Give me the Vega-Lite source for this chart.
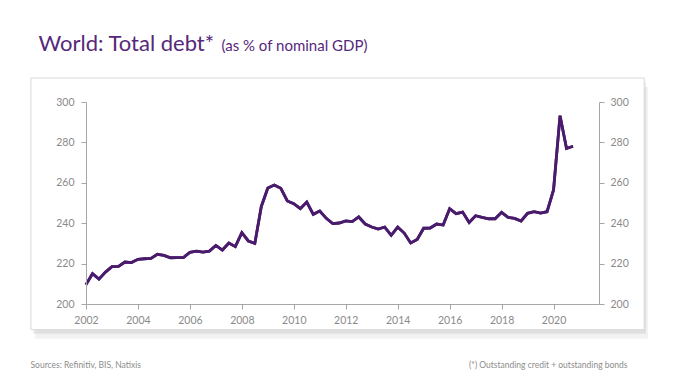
{
  "$schema": "https://vega.github.io/schema/vega-lite/v6.json",
  "width": 513,
  "height": 202,
  "autosize": {"type": "none"},
  "padding": {"left": 86, "top": 102, "right": 81, "bottom": 79},
  "background": "#ffffff",
  "config": {
    "view": {"stroke": null},
    "font": "Lato",
    "axis": {"grid": false, "labelFont": "Lato", "titleFont": "Lato", "zindex": 1, "labelFlush": false}
  },
  "data": {
    "values": [
      {"t": 2002.00, "v": 209.6}, {"t": 2002.25, "v": 215.0}, {"t": 2002.50, "v": 212.3}, {"t": 2002.75, "v": 215.8},
      {"t": 2003.00, "v": 218.5}, {"t": 2003.25, "v": 218.6}, {"t": 2003.50, "v": 220.8}, {"t": 2003.75, "v": 220.5},
      {"t": 2004.00, "v": 222.1}, {"t": 2004.25, "v": 222.4}, {"t": 2004.50, "v": 222.6}, {"t": 2004.75, "v": 224.6},
      {"t": 2005.00, "v": 224.1}, {"t": 2005.25, "v": 222.9}, {"t": 2005.50, "v": 223.0}, {"t": 2005.75, "v": 223.0},
      {"t": 2006.00, "v": 225.6}, {"t": 2006.25, "v": 226.2}, {"t": 2006.50, "v": 225.7}, {"t": 2006.75, "v": 226.2},
      {"t": 2007.00, "v": 229.0}, {"t": 2007.25, "v": 226.7}, {"t": 2007.50, "v": 230.2}, {"t": 2007.75, "v": 228.4},
      {"t": 2008.00, "v": 235.3}, {"t": 2008.25, "v": 231.2}, {"t": 2008.50, "v": 230.0}, {"t": 2008.75, "v": 248.3},
      {"t": 2009.00, "v": 257.4}, {"t": 2009.25, "v": 258.9}, {"t": 2009.50, "v": 257.3}, {"t": 2009.75, "v": 251.0},
      {"t": 2010.00, "v": 249.7}, {"t": 2010.25, "v": 247.2}, {"t": 2010.50, "v": 250.5}, {"t": 2010.75, "v": 244.4},
      {"t": 2011.00, "v": 246.0}, {"t": 2011.25, "v": 242.4}, {"t": 2011.50, "v": 239.8}, {"t": 2011.75, "v": 240.1},
      {"t": 2012.00, "v": 241.1}, {"t": 2012.25, "v": 240.8}, {"t": 2012.50, "v": 243.1}, {"t": 2012.75, "v": 239.6},
      {"t": 2013.00, "v": 238.1}, {"t": 2013.25, "v": 237.1}, {"t": 2013.50, "v": 238.1}, {"t": 2013.75, "v": 234.0},
      {"t": 2014.00, "v": 238.1}, {"t": 2014.25, "v": 235.1}, {"t": 2014.50, "v": 230.2}, {"t": 2014.75, "v": 232.0},
      {"t": 2015.00, "v": 237.5}, {"t": 2015.25, "v": 237.6}, {"t": 2015.50, "v": 239.6}, {"t": 2015.75, "v": 239.1},
      {"t": 2016.00, "v": 247.2}, {"t": 2016.25, "v": 244.7}, {"t": 2016.50, "v": 245.5}, {"t": 2016.75, "v": 240.4},
      {"t": 2017.00, "v": 243.7}, {"t": 2017.25, "v": 242.9}, {"t": 2017.50, "v": 242.2}, {"t": 2017.75, "v": 242.2},
      {"t": 2018.00, "v": 245.4}, {"t": 2018.25, "v": 242.9}, {"t": 2018.50, "v": 242.4}, {"t": 2018.75, "v": 241.1},
      {"t": 2019.00, "v": 244.9}, {"t": 2019.25, "v": 245.7}, {"t": 2019.50, "v": 245.0}, {"t": 2019.75, "v": 245.7},
      {"t": 2020.00, "v": 256.5}, {"t": 2020.25, "v": 293.2}, {"t": 2020.50, "v": 277.0}, {"t": 2020.75, "v": 278.1}
    ]
  },
  "layer": [
    {
      "data": {"values": [{}]},
      "mark": {"type": "rect", "fill": "#000000", "fillOpacity": 0.05},
      "encoding": {
        "x": {"datum": 2000.04, "type": "quantitative", "scale": {"domain": [2002, 2021.75], "nice": false, "zero": false}, "axis": null},
        "x2": {"datum": 2023.64},
        "y": {"datum": 307.4, "type": "quantitative", "scale": {"domain": [200, 300], "nice": false, "zero": false}, "axis": null},
        "y2": {"datum": 182.8}
      }
    },
    {
      "data": {"values": [{}]},
      "mark": {"type": "rect", "fill": "#000000", "fillOpacity": 0.07},
      "encoding": {
        "x": {"datum": 1999.96, "type": "quantitative", "axis": null},
        "x2": {"datum": 2023.56},
        "y": {"datum": 309.9, "type": "quantitative", "axis": null},
        "y2": {"datum": 185.3}
      }
    },
    {
      "data": {"values": [{}]},
      "mark": {"type": "rect", "fill": "#ffffff", "stroke": "#d9d9d9", "strokeWidth": 1},
      "encoding": {
        "x": {"datum": 1999.88, "type": "quantitative", "axis": null},
        "x2": {"datum": 2023.49},
        "y": {"datum": 311.9, "type": "quantitative", "axis": null},
        "y2": {"datum": 187.3}
      }
    },
    {
      "mark": {"type": "line", "color": "#4A1B6C", "strokeWidth": 2.8, "strokeJoin": "miter"},
      "encoding": {
        "x": {
          "field": "t", "type": "quantitative",
          "axis": {
            "orient": "bottom", "zindex": 1, "labelFlush": false,
            "values": [2002, 2004, 2006, 2008, 2010, 2012, 2014, 2016, 2018, 2020],
            "format": "d",
            "domainColor": "#a6a6a6", "tickColor": "#a6a6a6", "tickSize": 5,
            "labelColor": "#8a8a8a", "labelFontSize": 10.5, "labelPadding": 6,
            "title": "Sources: Refinitiv, BIS, Natixis",
            "titleFontSize": 8.5, "titleFontWeight": "normal", "titleColor": "#8c8c8c",
            "titleAnchor": "start", "titleAlign": "left", "titleBaseline": "alphabetic",
            "titleX": -56, "titleY": 63
          }
        },
        "y": {
          "field": "v", "type": "quantitative",
          "axis": {
            "orient": "left", "zindex": 1, "labelFlush": false,
            "values": [200, 220, 240, 260, 280, 300],
            "domainColor": "#a6a6a6", "tickColor": "#a6a6a6", "tickSize": 5,
            "labelColor": "#8a8a8a", "labelFontSize": 10.5, "labelPadding": 7,
            "title": "World: Total debt*",
            "titleFontSize": 22, "titleFontWeight": "normal", "titleColor": "#55287A",
            "titleAngle": 0, "titleAlign": "left", "titleBaseline": "alphabetic",
            "titleX": -48, "titleY": -52
          }
        }
      }
    },
    {
      "mark": {"type": "line", "color": "#4A1B6C", "strokeWidth": 2.8, "strokeJoin": "miter"},
      "encoding": {
        "x": {
          "field": "t", "type": "quantitative",
          "axis": {
            "orient": "top", "zindex": 1,
            "domain": false, "ticks": false, "labels": false,
            "title": "(*) Outstanding credit + outstanding bonds",
            "titleFontSize": 8.5, "titleFontWeight": "normal", "titleColor": "#8c8c8c",
            "titleAlign": "right", "titleBaseline": "alphabetic",
            "titleX": 541, "titleY": 265
          }
        },
        "y": {
          "field": "v", "type": "quantitative",
          "axis": {
            "orient": "right", "zindex": 1, "labelFlush": false,
            "values": [200, 220, 240, 260, 280, 300],
            "domainColor": "#a6a6a6", "tickColor": "#a6a6a6", "tickSize": 5,
            "labelColor": "#8a8a8a", "labelFontSize": 10.5, "labelPadding": 6,
            "title": "(as % of nominal GDP)",
            "titleFontSize": 15, "titleFontWeight": "normal", "titleColor": "#55287A",
            "titleAngle": 0, "titleAlign": "left", "titleBaseline": "alphabetic",
            "titleX": -378, "titleY": -52
          }
        }
      }
    }
  ],
  "resolve": {"scale": {"x": "shared", "y": "shared"}, "axis": {"x": "independent", "y": "independent"}}
}
